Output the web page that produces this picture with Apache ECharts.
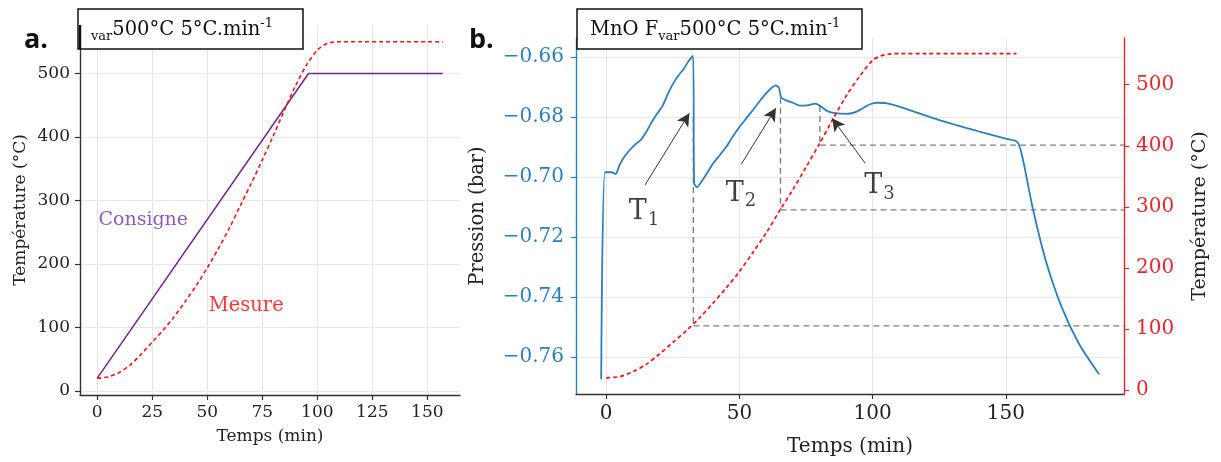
<!DOCTYPE html>
<html><head><meta charset="utf-8">
<script src="https://cdn.jsdelivr.net/npm/echarts@6/dist/echarts.min.js"></script>
<style>html,body{margin:0;padding:0;background:#fff}#c{width:1221px;height:462px}</style>
</head><body><div id="c"></div>
<script>
// ---------- Panel a data ----------
const timeSetA = [0, 96, 157];
const tempSetA = [20, 500, 500];
const timeMesA = [0,5,10,15,20,25,30,35,40,45,50,55,60,65,70,75,80,85,90,95,100,103,106,110,120,130,140,150,157];
const tempMesA = [20,22,29,41,58,77,96,117,141,166,194,224,256,292,327,364,402,442,480,513,537,545,549,550,550,550,550,550,550];
// ---------- Panel b data ----------
const timeMesB = [0,5,10,15,20,25,30,35,40,45,50,55,60,65,70,75,80,85,90,95,100,103,106,110,120,130,140,150,154];
const tempMesB = [20,22,30,42,59,78,97,118,142,167,194,225,257,293,328,365,403,443,481,513,540,547,550,551,551,551,551,551,551];
const timePres = [-1.9,-0.5,2,3.5,5,7,9,11,13,15,17,19,21,23,25,27,29,31,32.6,33.0,34,36,38,40,42.5,45,47.5,50,52.5,55,57.5,60,62,63.7,64.8,65.6,67,70,73,76,78.5,80.5,83,86,90,93,96,99,102,105,110,115,120,125,130,135,140,145,150,154.3,156.2,160,165,171,177.5,185];
const pres = [-0.7675,-0.6984,-0.6984,-0.6990,-0.6960,-0.6930,-0.6908,-0.6890,-0.6876,-0.6850,-0.6818,-0.6790,-0.6765,-0.6725,-0.6690,-0.6662,-0.6640,-0.6612,-0.6596,-0.7020,-0.7034,-0.7012,-0.6985,-0.6956,-0.6928,-0.6900,-0.6865,-0.6833,-0.6805,-0.6777,-0.6748,-0.6721,-0.6703,-0.6694,-0.6702,-0.6733,-0.6742,-0.6752,-0.6762,-0.6760,-0.6755,-0.6764,-0.6780,-0.6787,-0.6789,-0.6785,-0.6772,-0.6757,-0.6752,-0.6753,-0.6765,-0.6780,-0.6795,-0.6810,-0.6823,-0.6836,-0.6848,-0.6860,-0.6872,-0.6883,-0.6933,-0.7100,-0.7279,-0.7435,-0.7557,-0.7658];
// transitions: time, pressure at top of dashed line, temperature
const transNames = ['1','2','3'];
const transTime = [32.7, 65.4, 80.2];
const transPresTop = [-0.680, -0.6735, -0.6763];
const transTemp = [105, 295, 401];
// arrows: [tail, head] in (time, pressure)
const arrowTail = [[14.6,-0.7026],[50.7,-0.6957],[97.2,-0.6954]];
const arrowHead = [[31.2,-0.6787],[63.7,-0.6770],[84.8,-0.6804]];
const transLabelPos = [[14.2,-0.7118],[50.6,-0.7055],[102.6,-0.7031]];
// ticks
const ticksAX = [0,25,50,75,100,125,150];
const ticksAY = [0,100,200,300,400,500];
const ticksBX = [0,50,100,150];
const ticksBP = [-0.76,-0.74,-0.72,-0.70,-0.68,-0.66];
const ticksBT = [0,100,200,300,400,500];

// axis ranges
const AX = [-7.85, 164.85], AY = [-6.5, 576.5];
const BX = [-11.35, 194.35], BP = [-0.7724, -0.6536], BT = [-6.5, 576.5];

const SERIF = 'DejaVu Serif';
const BLUE = '#2c7fbf', RED = '#ff1010', AXRED = '#e8262b', PURPLE = '#74248f', GRIDC = '#e6e6e6';

function tempToPres(T){ return BP[0] + (T - BT[0]) / (BT[1] - BT[0]) * (BP[1] - BP[0]); }
function zip(a,b){ return a.map((v,i)=>[v,b[i]]); }
function fmtMinus(v){ return (v<0?'\u2212':'') + Math.abs(v).toFixed(2); }

function axisBase(o){
  return Object.assign({
    type:'value', scale:false,
    axisLine:{show:true,onZero:false,lineStyle:{color:o.lc||'#333',width:1.4}},
    axisTick:{show:true,length:5,customValues:o.ticks,lineStyle:{color:o.lc||'#333',width:1.2}},
    axisLabel:{customValues:o.ticks,fontFamily:SERIF,fontSize:o.fs,color:o.tc||'#222',margin:o.margin||9,formatter:o.fmt},
    splitLine:{show:o.split!==false,lineStyle:{color:GRIDC,width:1}},
    nameLocation:'middle',
    nameTextStyle:{fontFamily:SERIF,fontSize:o.nfs||o.fs,color:'#222'}
  }, o.extra||{});
}

const chart = echarts.init(document.getElementById('c'), null, {renderer:'canvas'});

const series = [
  {type:'line', xAxisIndex:0, yAxisIndex:0, data:zip(timeSetA,tempSetA), showSymbol:false, lineStyle:{color:PURPLE,width:1.5}, z:3},
  {type:'line', xAxisIndex:0, yAxisIndex:0, data:zip(timeMesA,tempMesA), smooth:0.3, showSymbol:false, lineStyle:{color:RED,width:1.6,type:[4,3]}, z:4},
  {type:'scatter', xAxisIndex:0, yAxisIndex:0, symbolSize:0, data:[[20.9,269]], silent:true,
    label:{show:true,position:'inside',formatter:'Consigne',fontFamily:SERIF,fontSize:19,color:'#7430ab',textBorderWidth:0}},
  {type:'scatter', xAxisIndex:0, yAxisIndex:0, symbolSize:0, data:[[67.7,134]], silent:true,
    label:{show:true,position:'inside',formatter:'Mesure',fontFamily:SERIF,fontSize:19.5,color:'#ff0000',textBorderWidth:0}},
  // panel b
  {type:'line', xAxisIndex:1, yAxisIndex:1, data:zip(timePres,pres), smooth:0.25, showSymbol:false, lineStyle:{color:BLUE,width:1.8}, z:3,
    markLine:{silent:true, symbol:['none','arrow'], symbolSize:[10,13], label:{show:false}, lineStyle:{color:'#333',width:1,type:'solid'},
      data: arrowTail.map((tl,i)=>[{coord:tl},{coord:arrowHead[i]}])}},
  {type:'line', xAxisIndex:1, yAxisIndex:2, data:zip(timeMesB,tempMesB), smooth:0.3, showSymbol:false, lineStyle:{color:RED,width:1.7,type:[4,3]}, z:4},
  {type:'scatter', xAxisIndex:1, yAxisIndex:1, symbolSize:0, silent:true,
    data: transLabelPos.map((p,i)=>({value:p, name:transNames[i]})),
    label:{show:true,position:'inside',formatter:p=>'{a|T}{b|'+p.name+'}', textBorderWidth:0,
      rich:{a:{fontFamily:SERIF,fontSize:27,color:'#111',lineHeight:34,verticalAlign:'middle',textBorderWidth:0},
            b:{fontFamily:SERIF,fontSize:18,color:'#111',lineHeight:34,verticalAlign:'bottom',padding:[0,0,0,1],textBorderWidth:0}}}}
];
transTime.forEach((t,i)=>{
  series.push({type:'line', xAxisIndex:1, yAxisIndex:1, showSymbol:false, silent:true, z:2,
    data:[[t,transPresTop[i]],[t,tempToPres(transTemp[i])]], lineStyle:{color:'#7f7f7f',width:1.4,type:[6,4]}});
  series.push({type:'line', xAxisIndex:1, yAxisIndex:2, showSymbol:false, silent:true, z:2,
    data:[[t,transTemp[i]],[BX[1],transTemp[i]]], lineStyle:{color:'#7f7f7f',width:1.4,type:[6,4]}});
});

const option = {
  animation:false,
  backgroundColor:'#fff',
  grid:[
    {left:80, top:25, right:761, bottom:67, containLabel:false},
    {left:576, top:38, right:97, bottom:68, containLabel:false}
  ],
  xAxis:[
    axisBase({ticks:ticksAX, fs:17, extra:{gridIndex:0, min:AX[0], max:AX[1], name:'Temps (min)', nameGap:33}}),
    axisBase({ticks:ticksBX, fs:20, margin:10, extra:{gridIndex:1, min:BX[0], max:BX[1], name:'Temps (min)', nameGap:43}})
  ],
  yAxis:[
    axisBase({ticks:ticksAY, fs:17, margin:10, extra:{gridIndex:0, min:AY[0], max:AY[1], name:'Température (°C)', nameGap:51}}),
    axisBase({ticks:ticksBP, fs:20, margin:12, lc:BLUE, tc:BLUE, nfs:19.5, fmt:fmtMinus,
      extra:{gridIndex:1, position:'left', min:BP[0], max:BP[1], name:'Pression (bar)', nameGap:88}}),
    axisBase({ticks:ticksBT, fs:20, margin:12, lc:AXRED, tc:AXRED, nfs:19, split:false,
      extra:{gridIndex:1, position:'right', min:BT[0], max:BT[1], name:'Température (°C)', nameGap:67, nameRotate:90}})
  ],
  series:series,
  graphic:[
    {type:'rect', shape:{x:78,y:9,width:225,height:40}, style:{fill:'#fff',stroke:'#111',lineWidth:1.5}, z:100},
    {type:'line', shape:{x1:80,y1:25,x2:80,y2:49}, style:{stroke:'#111',lineWidth:2.5}, z:101},
    {type:'text', x:91, y:30, z:101, style:{text:'{s|var}{m|500°C 5°C.min}{p|-1}', verticalAlign:'middle',
      rich:{s:{fontFamily:SERIF,fontSize:13,fill:'#111',lineHeight:26,verticalAlign:'bottom'},
            m:{fontFamily:SERIF,fontSize:19.5,fill:'#111',lineHeight:26,verticalAlign:'middle'},
            p:{fontFamily:SERIF,fontSize:13,fill:'#111',lineHeight:26,verticalAlign:'top'}}}},
    {type:'rect', shape:{x:577,y:9,width:285,height:40}, style:{fill:'#fff',stroke:'#111',lineWidth:1.5}, z:100},
    {type:'text', x:590, y:30, z:101, style:{text:'{m|MnO F}{s|var}{m|500°C 5°C.min}{p|-1}', verticalAlign:'middle',
      rich:{s:{fontFamily:SERIF,fontSize:13,fill:'#111',lineHeight:26,verticalAlign:'bottom'},
            m:{fontFamily:SERIF,fontSize:19.5,fill:'#111',lineHeight:26,verticalAlign:'middle'},
            p:{fontFamily:SERIF,fontSize:13,fill:'#111',lineHeight:26,verticalAlign:'top'}}}},
    {type:'text', x:24, y:40, z:101, style:{text:'a.', font:'bold 27px "Open Sans"', fill:'#111', verticalAlign:'middle'}},
    {type:'text', x:469, y:40, z:101, style:{text:'b.', font:'bold 27px "Open Sans"', fill:'#111', verticalAlign:'middle'}}
  ]
};
chart.setOption(option);
</script>
</body></html>
